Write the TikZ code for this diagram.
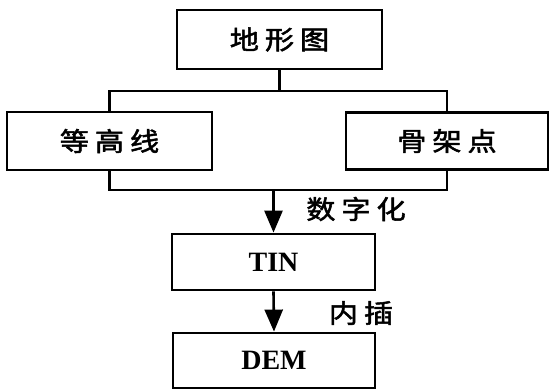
\documentclass[tikz,border=0pt]{standalone}
\usepackage{fontspec}
\setmainfont{Liberation Serif}
\newfontfamily\cjk[FakeStretch=1.12,FakeBold=2]{Noto Sans CJK SC}
\usetikzlibrary{arrows.meta}
\tikzset{
  box/.style={draw, line width=2.8pt, rectangle, inner sep=0pt, font=\cjk\fontsize{26}{26}\selectfont},
  conn/.style={line width=2.6pt},
  arr/.style={line width=2.6pt, -{Triangle[length=22pt,width=18pt]}},
  lbl/.style={font=\cjk\fontsize{26}{26}\selectfont, inner sep=0pt},
  latin/.style={font=\rmfamily\bfseries\fontsize{28}{28}\selectfont}
}
\begin{document}
\begin{tikzpicture}[x=1pt,y=-1pt]
\useasboundingbox[fill=white] (0,0) rectangle (550,391);
\node[box, minimum width=205pt, minimum height=59pt] (top) at (279.5,39.5) {地\hspace{6pt}形\hspace{6pt}图};
\node[box, minimum width=205pt, minimum height=58pt] (left) at (109.5,141) {等\hspace{6pt}高\hspace{6pt}线};
\node[box, minimum width=202pt, minimum height=57pt] (right) at (447,141) {骨\hspace{6pt}架\hspace{6pt}点};
\node[box, latin, minimum width=203pt, minimum height=56pt] (tin) at (273.5,262) {TIN};
\node[box, latin, minimum width=202pt, minimum height=55pt] (dem) at (274,360.5) {DEM};
\coordinate (j1) at (279.5,91);
\coordinate (j2) at (273.5,190);
\draw[conn] (top.south) -- (j1);
\draw[conn] (left.north) |- (j1) -| (right.north);
\draw[conn] (left.south) |- (j2) -| (right.south);
\draw[arr] (j2) -- (tin.north);
\draw[arr] (tin.south) -- (dem.north);
\node[lbl] (l1) at (356,209) {数\hspace{6pt}字\hspace{6pt}化};
\node[lbl] (l2) at (361,313) {内\hspace{6pt}插};
\end{tikzpicture}
\end{document}
